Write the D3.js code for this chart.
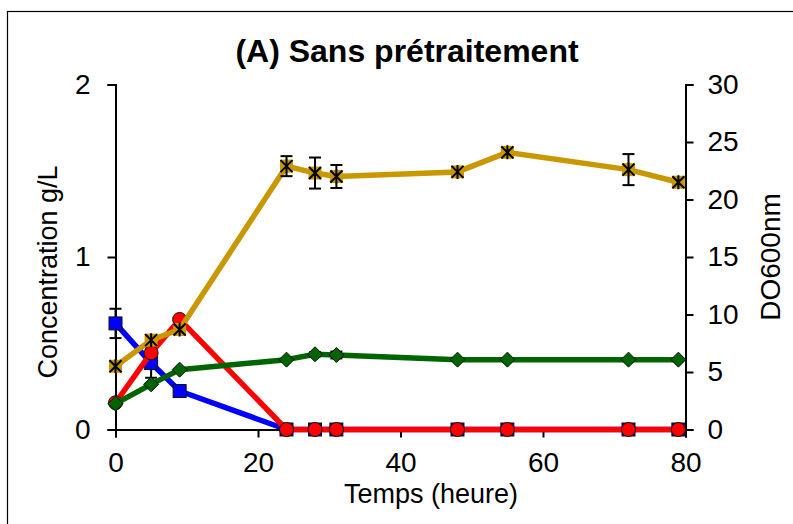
<!DOCTYPE html>
<html><head><meta charset="utf-8">
<script src="https://cdn.jsdelivr.net/npm/d3@7"></script>
<style>body{margin:0;background:#fff}svg{display:block;font-family:"Liberation Sans",Arial,sans-serif}</style>
</head><body><svg id="c" width="793" height="524"></svg>
<script>
const title = "(A) Sans prétraitement";
const xLabel = "Temps (heure)";
const yLeftLabel = "Concentration g/L";
const yRightLabel = "DO600nm";
const time = [0,5,9,24,28,31,48,55,72,79];
const blue = [0.615,0.385,0.223,0,0,0,0,0,0,0];
const blueErr = [0.085,0.085,0,0,0,0,0,0,0,0];
const red = [0.155,0.444,0.638,0,0,0,0,0,0,0];
const redErr = [0,0,0,0,0,0,0,0,0,0];
const green = [0.15,0.262,0.347,0.405,0.436,0.432,0.405,0.405,0.405,0.405];
const greenErr = [0,0,0,0,0.012,0.02,0,0,0,0];
const gold = [5.5,7.77,8.7,22.9,22.3,22.0,22.4,24.1,22.6,21.5];
const goldErr = [0.2,0.4,0.4,0.87,1.35,1.0,0.35,0.2,1.35,0.3];
const xTicks = [0,20,40,60,80];
const yLeftTicks = [0,1,2];
const yRightTicks = [0,5,10,15,20,25,30];

const svg = d3.select("#c");
const L=115.5, R=685.5, T=84.5, B=429.5;
const x = d3.scaleLinear().domain([0,80]).range([L,R]);
const yL = d3.scaleLinear().domain([0,2]).range([B,T]);
const yR = d3.scaleLinear().domain([0,30]).range([B,T]);

// frame
svg.append("rect").attr("x",7.5).attr("y",11.5).attr("width",820).attr("height",540)
  .attr("fill","none").attr("stroke","#000").attr("stroke-width",1.2);

svg.append("text").attr("x",407).attr("y",62).attr("text-anchor","middle")
  .attr("font-weight","bold").attr("font-size",32).text(title);

const fs = 28;
const gx = svg.append("g").attr("transform",`translate(0,${B})`)
  .call(d3.axisBottom(x).tickValues(xTicks).tickSize(8).tickPadding(15));
const gyl = svg.append("g").attr("transform",`translate(${L},0)`)
  .call(d3.axisLeft(yL).tickValues(yLeftTicks).tickSize(8).tickPadding(17).tickFormat(d3.format("d")));
const gyr = svg.append("g").attr("transform",`translate(${R},0)`)
  .call(d3.axisRight(yR).tickValues(yRightTicks).tickSize(8).tickPadding(14));
[gx,gyl,gyr].forEach(g=>{
  g.select(".domain").attr("stroke","#000").attr("stroke-width",2);
  g.selectAll(".tick line").attr("stroke","#000").attr("stroke-width",2);
  g.selectAll("text").attr("font-size",fs).attr("fill","#000").attr("font-family","Liberation Sans, Arial, sans-serif");
});
gx.selectAll("text").attr("dy","0.71em");

svg.append("text").attr("x",431).attr("y",503).attr("text-anchor","middle").attr("font-size",27).text(xLabel);
svg.append("text").attr("transform","translate(57,272) rotate(-90)").attr("text-anchor","middle").attr("font-size",27).text(yLeftLabel);
svg.append("text").attr("transform","translate(780,257) rotate(-90)").attr("text-anchor","middle").attr("font-size",28).text(yRightLabel);

function series(vals, errs, y, color, marker){
  const pts = time.map((t,i)=>({t, v:vals[i], e:errs[i]}));
  const g = svg.append("g");
  g.append("path").datum(pts).attr("fill","none").attr("stroke",color).attr("stroke-width",5.5)
    .attr("stroke-linejoin","round")
    .attr("d", d3.line().x(d=>x(d.t)).y(d=>y(d.v)));
  const eb = g.selectAll(".eb").data(pts.filter(d=>d.e>0)).enter().append("g");
  eb.append("line").attr("x1",d=>x(d.t)).attr("x2",d=>x(d.t)).attr("y1",d=>y(d.v-d.e)).attr("y2",d=>y(d.v+d.e)).attr("stroke","#000").attr("stroke-width",2);
  [1,-1].forEach(s=>eb.append("line").attr("x1",d=>x(d.t)-6).attr("x2",d=>x(d.t)+6)
    .attr("y1",d=>y(d.v+s*d.e)).attr("y2",d=>y(d.v+s*d.e)).attr("stroke","#000").attr("stroke-width",2));
  const m = g.selectAll(".m").data(pts).enter().append("g")
    .attr("transform",d=>`translate(${x(d.t)},${y(d.v)})`);
  if(marker==="square"){
    m.append("rect").attr("x",-6.5).attr("y",-6.5).attr("width",13).attr("height",13)
      .attr("fill",color).attr("stroke","#111").attr("stroke-width",1);
  } else if(marker==="circle"){
    m.append("circle").attr("r",7).attr("fill",color).attr("stroke","#111").attr("stroke-width",1);
  } else if(marker==="diamond"){
    m.append("path").attr("d","M0,-7.5L7.5,0L0,7.5L-7.5,0Z").attr("fill",color).attr("stroke","#111").attr("stroke-width",1);
  } else if(marker==="star"){
    m.append("rect").attr("x",-6.5).attr("y",-6.5).attr("width",13).attr("height",13).attr("fill",color);
    m.append("path").attr("d","M-6,-6L6,6M-6,6L6,-6M0,-7L0,7").attr("stroke","#000").attr("stroke-width",2).attr("fill","none");
  }
}
series(blue, blueErr, yL, "#0000FF", "square");
series(red, redErr, yL, "#FF0000", "circle");
series(green, greenErr, yL, "#006400", "diamond");
series(gold, goldErr, yR, "#C99700", "star");
</script></body></html>
